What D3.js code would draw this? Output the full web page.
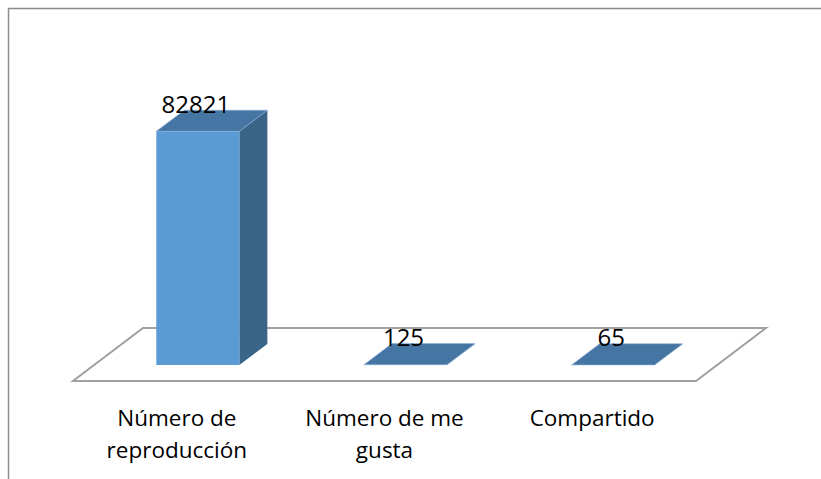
<!DOCTYPE html>
<html>
<head>
    <meta charset="utf-8">
    <title>Reproducciones</title>
    <script src="https://d3js.org/d3.v7.min.js"></script>
    <style>
        body { margin: 0; background: #fff; }
        text { font-family: "Open Sans", "Noto Sans", sans-serif; fill: #000; }
    </style>
</head>
<body>
    <svg id="chart" width="821" height="479"></svg>

    <script>
        // data
        const categories = ["Número de reproducción", "Número de me gusta", "Compartido"];
        const labelLines = [["Número de", "reproducción"], ["Número de me", "gusta"], ["Compartido"]];
        const values = [82821, 125, 65];
        const yMax = 90000;

        const svg = d3.select("#chart");

        // chart frame (only top and left edges are visible)
        svg.append("path")
            .attr("d", "M8.5,479 V8.5 H821")
            .attr("fill", "none")
            .attr("stroke", "#8c8c8c")
            .attr("stroke-width", 1.5);

        // 3d floor geometry
        const front = {x0: 73, x1: 696, y: 381};
        const depth = {dx: 70, dy: -53};
        const barZ0 = 0.3, barZ1 = 0.7;

        const x = d3.scaleBand().domain(categories).range([front.x0, front.x1]).paddingInner(0.6).paddingOuter(0.3);
        const band = d3.scaleBand().domain(categories).range([front.x0, front.x1]);
        const h = d3.scaleLinear().domain([0, yMax]).range([0, 254]);

        // project (u along front edge, z depth fraction, v height) to screen
        const P = (u, z, v) => [u + z * depth.dx, front.y + z * depth.dy - v];
        const poly = pts => "M" + pts.map(p => p.join(",")).join("L") + "Z";

        svg.append("path")
            .attr("d", poly([P(front.x0, 0, 0), P(front.x1, 0, 0), P(front.x1, 1, 0), P(front.x0, 1, 0)]))
            .attr("fill", "#fff")
            .attr("stroke", "#a0a0a0")
            .attr("stroke-width", 2)
            .attr("stroke-linejoin", "miter");

        const bars = svg.selectAll("g.bar")
            .data(categories.map((c, i) => ({c, v: values[i]})))
            .join("g").attr("class", "bar");

        // side face
        bars.append("path")
            .attr("d", d => {
                const u1 = x(d.c) + x.bandwidth(), hv = h(d.v);
                return poly([P(u1, barZ0, 0), P(u1, barZ1, 0), P(u1, barZ1, hv), P(u1, barZ0, hv)]);
            })
            .attr("fill", "#3a6488");

        // front face
        bars.append("path")
            .attr("d", d => {
                const u0 = x(d.c), u1 = u0 + x.bandwidth(), hv = h(d.v);
                return poly([P(u0, barZ0, 0), P(u1, barZ0, 0), P(u1, barZ0, hv), P(u0, barZ0, hv)]);
            })
            .attr("fill", "#5b9bd5");

        // top face
        bars.append("path")
            .attr("d", d => {
                const u0 = x(d.c), u1 = u0 + x.bandwidth(), hv = h(d.v);
                return poly([P(u0, barZ0, hv), P(u1, barZ0, hv), P(u1, barZ1, hv), P(u0, barZ1, hv)]);
            })
            .attr("fill", "#4575a2")
            .attr("stroke", "#8fb4da")
            .attr("stroke-width", 0.6);

        // value labels
        bars.append("text")
            .attr("x", d => P(x(d.c) + x.bandwidth() / 2, barZ0, 0)[0] - 2)
            .attr("y", d => P(0, (barZ0 + barZ1) / 2, h(d.v))[1] - 8)
            .attr("text-anchor", "middle")
            .style("font-size", "24px")
            .text(d => d.v);

        // category labels
        svg.selectAll("text.cat")
            .data(categories)
            .join("text").attr("class", "cat")
            .attr("text-anchor", "middle")
            .style("font-size", "22.5px")
            .each(function(c, i) {
                const t = d3.select(this);
                labelLines[i].forEach((line, k) => {
                    t.append("tspan")
                        .attr("x", band(c) + band.bandwidth() / 2)
                        .attr("y", 426 + k * 32)
                        .text(line);
                });
            });
    </script>
</body>
</html>
